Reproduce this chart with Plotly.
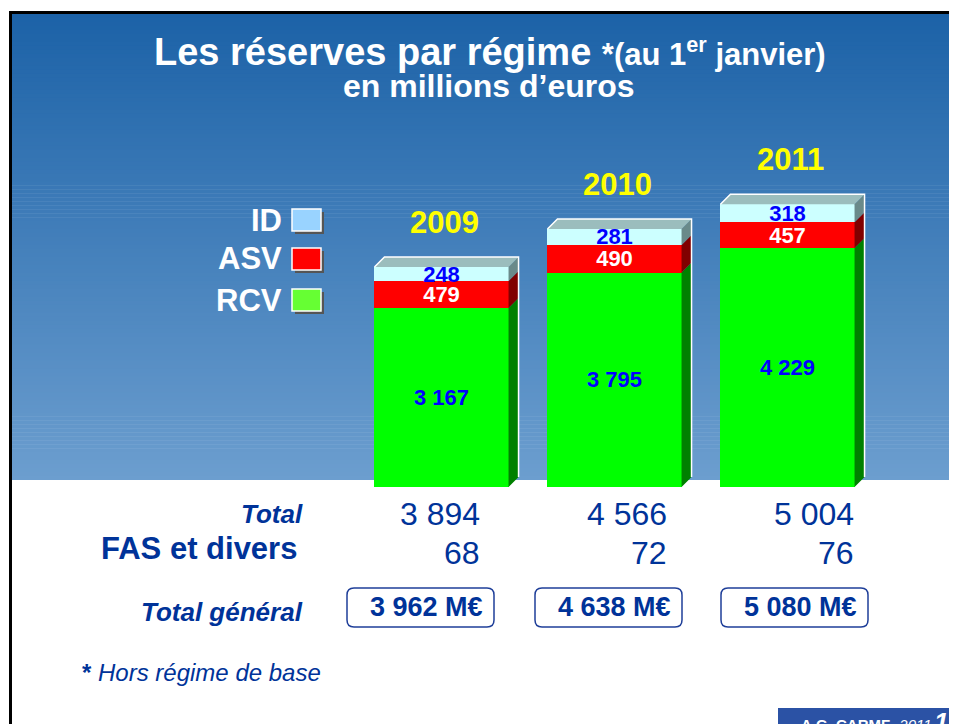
import plotly.graph_objects as go

# ---------------- data ----------------
years = ["2009", "2010", "2011"]
series_names = ["RCV", "ASV", "ID"]
rcv = [3167, 3795, 4229]
asv = [479, 490, 457]
id_vals = [248, 281, 318]
fas = [68, 72, 76]

# ---------------- layout constants ----------------
OFF = 8                     # page offset of the figure (body margin)
W, H = 957 - OFF, 724 - OFF
L, R, T, B = 355 - OFF, 83, 100 - OFF, 237
PW = W - L - R
PH = H - T - B
YMAX = 6850
XMIN, XMAX = -0.5, 2.5
BAR_W = 0.775
DEPTH = 10  # px of pseudo-3D depth
FONT = "Liberation Sans, Arial, sans-serif"
NAVY = "#003399"

def px(x):  # page pixel -> paper
    return (x - OFF - L) / PW

def py(y):
    return (H - B - (y - OFF)) / PH

def fmt(v):
    return f"{v:,}".replace(",", " ")

dx = DEPTH * (XMAX - XMIN) / PW
dy = DEPTH * YMAX / PH

fills = {"RCV": "#00ff00", "ASV": "#ff0000", "ID": "#ccffff"}
sides = {"RCV": "#008000", "ASV": "#800000", "ID": "#6a8a8a"}
textcol = {"RCV": "#0000ff", "ASV": "#ffffff", "ID": "#0000ff"}
legend_sw = {"RCV": "#66ff33", "ASV": "#ff0000", "ID": "#99d3ff"}

stack = {"RCV": rcv, "ASV": asv, "ID": id_vals}
xs = list(range(len(years)))
totals = [a + b + c for a, b, c in zip(rcv, asv, id_vals)]
grand = [t + f for t, f in zip(totals, fas)]

fig = go.Figure()
for name in series_names:
    vals = stack[name]
    fig.add_trace(go.Bar(
        x=xs, y=vals, name=name, width=BAR_W,
        marker=dict(color=fills[name], line=dict(width=0)),
        text=[fmt(v) for v in vals], textposition="inside",
        insidetextanchor="middle", textangle=0, constraintext="none",
        textfont=dict(color=textcol[name], size=22, family=FONT, weight="bold"),
        hoverinfo="skip",
    ))

shapes = []
# background gradient (slide)
top_c = (28, 98, 167)
bot_c = (108, 158, 207)
g0, g1 = 14, 480
n = 117
for k in range(n):
    a = g0 + (g1 - g0) * k / n
    b = g0 + (g1 - g0) * (k + 1) / n + 0.6
    t = (k + 0.5) / n
    c = tuple(round(top_c[j] + (bot_c[j] - top_c[j]) * t) for j in range(3))
    shapes.append(dict(type="rect", xref="paper", yref="paper", layer="below",
                       x0=px(12), x1=px(957 + 2), y0=py(min(b, g1)), y1=py(a),
                       fillcolor=f"rgb{c}", line=dict(width=0)))
# slide border
shapes.append(dict(type="rect", xref="paper", yref="paper", x0=px(9), x1=px(957 + 2),
                   y0=py(14), y1=py(11), fillcolor="black", line=dict(width=0)))
shapes.append(dict(type="rect", xref="paper", yref="paper", x0=px(9), x1=px(12),
                   y0=py(724 + 2), y1=py(11), fillcolor="black", line=dict(width=0)))

# pseudo-3D faces computed from the data
for i in xs:
    xl = i - BAR_W / 2
    xr = i + BAR_W / 2
    base = 0
    for name in series_names:
        top = base + stack[name][i]
        shapes.append(dict(type="path", xref="x", yref="y",
                           path=f"M {xr},{base} L {xr+dx},{base+dy} L {xr+dx},{top+dy} L {xr},{top} Z",
                           fillcolor=sides[name], line=dict(width=0)))
        base = top
    shapes.append(dict(type="path", xref="x", yref="y",
                       path=f"M {xl},{base} L {xl+dx},{base+dy} L {xr+dx},{base+dy} L {xr},{base} Z",
                       fillcolor="#9bbdbd", line=dict(width=0)))
    shapes.append(dict(type="path", xref="x", yref="y",
                       path=f"M {xl},{base} L {xl+dx},{base+dy} L {xr+dx},{base+dy} L {xr+dx},{dy}",
                       line=dict(color="white", width=1.5)))

# legend swatches
leg_rows = {"ID": 220, "ASV": 259, "RCV": 300}
for name, cy in leg_rows.items():
    shapes.append(dict(type="rect", xref="paper", yref="paper",
                       x0=px(295), x1=px(324), y0=py(cy + 14), y1=py(cy - 8),
                       fillcolor="#555555", line=dict(width=0)))
    shapes.append(dict(type="rect", xref="paper", yref="paper",
                       x0=px(292), x1=px(321), y0=py(cy + 11), y1=py(cy - 11),
                       fillcolor=legend_sw[name], line=dict(color="white", width=1.5)))

# total general boxes
box_right = [494, 682, 868]
BOX_W, BOX_T, BOX_B, RAD = 147, 588, 627, 7
for xr_ in box_right:
    x0, x1 = xr_ - BOX_W, xr_
    p = (f"M {px(x0+RAD)},{py(BOX_T)} L {px(x1-RAD)},{py(BOX_T)} "
         f"Q {px(x1)},{py(BOX_T)} {px(x1)},{py(BOX_T+RAD)} L {px(x1)},{py(BOX_B-RAD)} "
         f"Q {px(x1)},{py(BOX_B)} {px(x1-RAD)},{py(BOX_B)} L {px(x0+RAD)},{py(BOX_B)} "
         f"Q {px(x0)},{py(BOX_B)} {px(x0)},{py(BOX_B-RAD)} L {px(x0)},{py(BOX_T+RAD)} "
         f"Q {px(x0)},{py(BOX_T)} {px(x0+RAD)},{py(BOX_T)} Z")
    shapes.append(dict(type="path", xref="paper", yref="paper", path=p,
                       fillcolor="white", line=dict(color="#1f3f99", width=1.5)))

# footer
shapes.append(dict(type="rect", xref="paper", yref="paper", x0=px(778), x1=px(957 + 2),
                   y0=py(724 + 2), y1=py(708), fillcolor="#2b52a5", line=dict(width=0)))

ann = []
def A(text, x, y, size, color, xanchor="center", yanchor="middle", xref="paper", yref="paper", **kw):
    ann.append(dict(text=text, x=x, y=y, xref=xref, yref=yref, showarrow=False,
                    xanchor=xanchor, yanchor=yanchor,
                    font=dict(family=FONT, size=size, color=color), **kw))

A("<b>Les réserves par régime <span style='font-size:31px'>*(au 1<sup>er</sup> janvier)</span></b>",
  px(490), py(52), 38, "white")
A("<b>en millions d’euros</b>", px(489), py(86), 32, "white")

for name, cy in leg_rows.items():
    A(f"<b>{name}</b>", px(284), py(cy), 31, "white", xanchor="right")

for i in xs:
    A(f"<b>{years[i]}</b>", i, totals[i], 31, "#ffff00", xref="x", yref="y", yshift=45, xshift=3)

A("<b><i>Total</i></b>", px(305), py(514), 26, NAVY, xanchor="right")
A("<b>FAS et divers</b>", px(299), py(548), 31, NAVY, xanchor="right")
A("<b><i>Total général</i></b>", px(305), py(612), 26, NAVY, xanchor="right")
A("<b>*</b><i> Hors régime de base</i>", px(80), py(672), 24, NAVY, xanchor="left")

num_right = [482, 669, 856]
for i in xs:
    A(fmt(totals[i]), px(num_right[i]), py(514), 32, NAVY, xanchor="right")
    A(fmt(fas[i]), px(num_right[i]), py(553), 32, NAVY, xanchor="right")
    A(f"<b>{fmt(grand[i])} M€</b>", px(box_right[i] - 9), py(607), 27, NAVY, xanchor="right")

A("<b>A.G. CARMF</b><i>- 2011</i>", px(799), py(714), 15, "white", xanchor="left", yanchor="top")
A("<b><i>10</i></b>", px(932), py(705), 26, "white", xanchor="left", yanchor="top")

fig.update_layout(
    width=W, height=H, barmode="stack", showlegend=False,
    margin=dict(l=L, r=R, t=T, b=B, pad=0),
    paper_bgcolor="white", plot_bgcolor="rgba(0,0,0,0)",
    xaxis=dict(visible=False, range=[XMIN, XMAX], fixedrange=True),
    yaxis=dict(visible=False, range=[0, YMAX], fixedrange=True),
    shapes=shapes, annotations=ann, font=dict(family=FONT),
    hovermode=False,
)
fig.write_html("out.html")
